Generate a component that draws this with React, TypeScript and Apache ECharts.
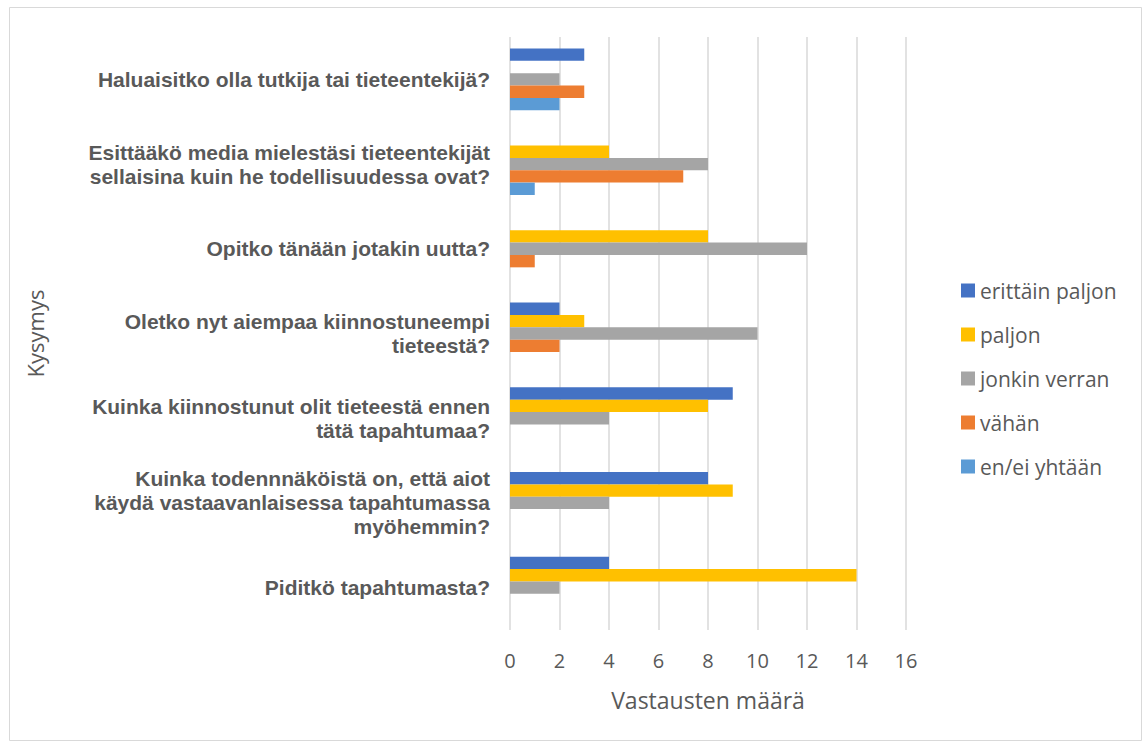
import React, { useEffect, useRef } from "react";
import * as echarts from "echarts";

const categories = [
  "Piditkö tapahtumasta?",
  "Kuinka todennnäköistä on, että aiot\nkäydä vastaavanlaisessa tapahtumassa\nmyöhemmin?",
  "Kuinka kiinnostunut olit tieteestä ennen\ntätä tapahtumaa?",
  "Oletko nyt aiempaa kiinnostuneempi\ntieteestä?",
  "Opitko tänään jotakin uutta?",
  "Esittääkö media mielestäsi tieteentekijät\nsellaisina kuin he todellisuudessa ovat?",
  "Haluaisitko olla tutkija tai tieteentekijä?",
];

const seriesNames = ["erittäin paljon", "paljon", "jonkin verran", "vähän", "en/ei yhtään"];
const erittainPaljon = [4, 8, 9, 2, 0, 0, 3];
const paljon = [14, 9, 8, 3, 8, 4, 0];
const jonkinVerran = [2, 4, 4, 10, 12, 8, 2];
const vahan = [0, 0, 0, 2, 1, 7, 3];
const enEiYhtaan = [0, 0, 0, 0, 0, 1, 2];
const xTicks = [0, 2, 4, 6, 8, 10, 12, 14, 16];

const colors = ["#4472C4", "#FFC000", "#A5A5A5", "#ED7D31", "#5B9BD5"];

export default function App() {
  const ref = useRef<HTMLDivElement>(null);
  useEffect(() => {
    if (!ref.current) return;
    const chart = echarts.init(ref.current, null, { renderer: "svg" });
    const values = [erittainPaljon, paljon, jonkinVerran, vahan, enEiYhtaan];
    const series = values.map((v, i) => ({
      name: seriesNames[i],
      type: "bar",
      data: v,
      itemStyle: { color: colors[i] },
      barGap: "0%",
      barCategoryGap: "27%",
    }));
    chart.setOption({
      animation: false,
      textStyle: { fontFamily: "'Open Sans', sans-serif" },
      graphic: [
        {
          type: "rect",
          shape: { x: 9.5, y: 7.5, width: 1132, height: 733 },
          style: { fill: "none", stroke: "#D9D9D9", lineWidth: 1 },
          silent: true,
        },
      ],
      legend: {
        orient: "vertical",
        left: 956,
        top: 275,
        itemWidth: 14,
        itemHeight: 14,
        itemGap: 23,
        icon: "rect",
        data: seriesNames,
        textStyle: { color: "#595959", fontSize: 21, fontFamily: "'Open Sans', sans-serif" },
      },
      grid: { left: 510, right: 238, top: 37, bottom: 113, containLabel: false },
      xAxis: {
        type: "value",
        min: 0,
        max: 16,
        interval: 2,
        name: "Vastausten määrä",
        nameLocation: "middle",
        nameGap: 58,
        nameTextStyle: { color: "#595959", fontSize: 23, fontFamily: "'Open Sans', sans-serif" },
        axisLine: { show: false },
        axisTick: { show: false },
        axisLabel: {
          color: "#595959",
          fontSize: 20,
          margin: 20,
          fontFamily: "'Open Sans', sans-serif",
          formatter: (v: number) => (xTicks.includes(v) ? String(v) : ""),
        },
        splitLine: { show: true, lineStyle: { color: "#D9D9D9", width: 1.5 } },
      },
      yAxis: {
        type: "category",
        data: categories,
        name: "Kysymys",
        nameLocation: "middle",
        nameGap: 464,
        nameRotate: 90,
        nameTextStyle: { color: "#595959", fontSize: 22, fontFamily: "'Open Sans', sans-serif" },
        axisLine: { show: false },
        axisTick: { show: false },
        axisLabel: {
          color: "#595959",
          fontSize: 21,
          fontWeight: "bold",
          fontFamily: "'Liberation Sans', Arial, sans-serif",
          lineHeight: 24,
          margin: 20,
          align: "right",
        },
        splitLine: { show: false },
      },
      series,
    });
    return () => chart.dispose();
  }, []);
  return (
    <div
      ref={ref}
      style={{ position: "fixed", left: 0, top: 0, width: 1144, height: 743, background: "#fff" }}
    />
  );
}
